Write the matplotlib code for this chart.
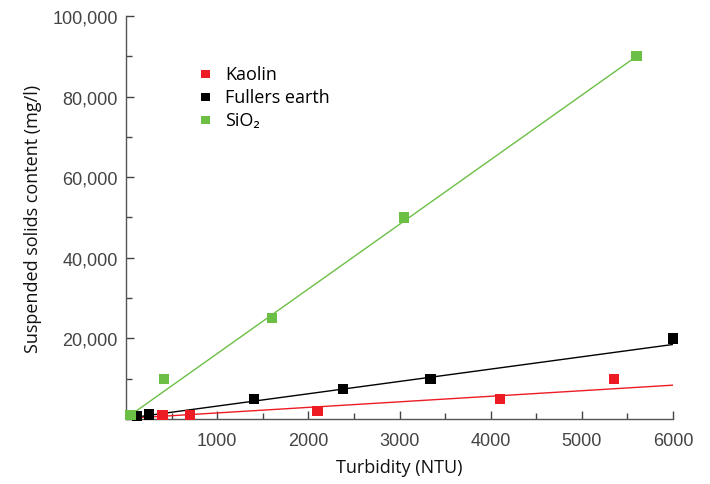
import numpy as np
import matplotlib.pyplot as plt
from matplotlib.ticker import FuncFormatter, MultipleLocator

# measured points (turbidity NTU, suspended solids mg/l)
kaolin_x = [400, 700, 2100, 4100, 5350]
kaolin_y = [1000, 1000, 2000, 5000, 10000]
fullers_x = [120, 250, 1400, 2380, 3340, 6000]
fullers_y = [700, 1100, 5000, 7500, 10000, 20000]
sio2_x = [50, 420, 1600, 3050, 5600]
sio2_y = [1000, 10000, 25000, 50000, 90000]

# trend lines (end points)
kaolin_fit_x = [50, 6000]
kaolin_fit_y = [200, 8400]
fullers_fit_x = [50, 6000]
fullers_fit_y = [300, 18500]
sio2_fit_x = [50, 5600]
sio2_fit_y = [1000, 90000]

series = [
    ("Kaolin", kaolin_x, kaolin_y, kaolin_fit_x, kaolin_fit_y, "#ed1c24"),
    ("Fullers earth", fullers_x, fullers_y, fullers_fit_x, fullers_fit_y, "#000000"),
    ("SiO\u2082", sio2_x, sio2_y, sio2_fit_x, sio2_fit_y, "#6cbf45"),
]

LABEL_FONT = ["Open Sans", "DejaVu Sans"]
TICK_FONT = "Liberation Sans"

fig = plt.figure(figsize=(7.1, 4.85), dpi=100)
ax = fig.add_axes([0.1775, 0.134, 0.7705, 0.831])

for name, x, y, fx, fy, c in series:
    ax.plot(fx, fy, color=c, lw=1.0, zorder=2)
    ax.scatter(x, y, marker="s", s=55, color=c, edgecolors="none",
               label=name, zorder=3, clip_on=False)

ax.set_xlim(0, 6000)
ax.set_ylim(0, 100000)
ax.xaxis.set_major_locator(MultipleLocator(1000))
ax.xaxis.set_minor_locator(MultipleLocator(500))
ax.yaxis.set_major_locator(MultipleLocator(20000))
ax.yaxis.set_minor_locator(MultipleLocator(10000))
ax.xaxis.set_major_formatter(FuncFormatter(lambda v, p: "" if v == 0 else f"{v:.0f}"))
ax.yaxis.set_major_formatter(FuncFormatter(lambda v, p: "" if v == 0 else f"{v:,.0f}"))

for s in ["top", "right"]:
    ax.spines[s].set_visible(False)
for s in ["left", "bottom"]:
    ax.spines[s].set_color("#555555")
    ax.spines[s].set_linewidth(1.0)

ax.tick_params(which="both", direction="in", color="#444444", width=1.0)
ax.tick_params(which="major", length=6, pad=6, labelsize=13, labelcolor="#444444")
ax.tick_params(axis="x", which="major", pad=9)
ax.tick_params(which="minor", length=4)
for lbl in ax.get_xticklabels() + ax.get_yticklabels():
    lbl.set_fontfamily(TICK_FONT)

ax.set_xlabel("Turbidity (NTU)", fontsize=13, family=LABEL_FONT, color="#111111", labelpad=7)
ax.set_ylabel("Suspended solids content (mg/l)", fontsize=13, family=LABEL_FONT,
              color="#111111", labelpad=7)

leg = ax.legend(loc="upper left", bbox_to_anchor=(0.099, 0.897), frameon=False,
                prop={"family": LABEL_FONT, "size": 13}, handletextpad=0.1,
                labelspacing=0.28, scatterpoints=1, markerscale=0.85, borderaxespad=0)

fig.savefig("out.png", dpi=100)
